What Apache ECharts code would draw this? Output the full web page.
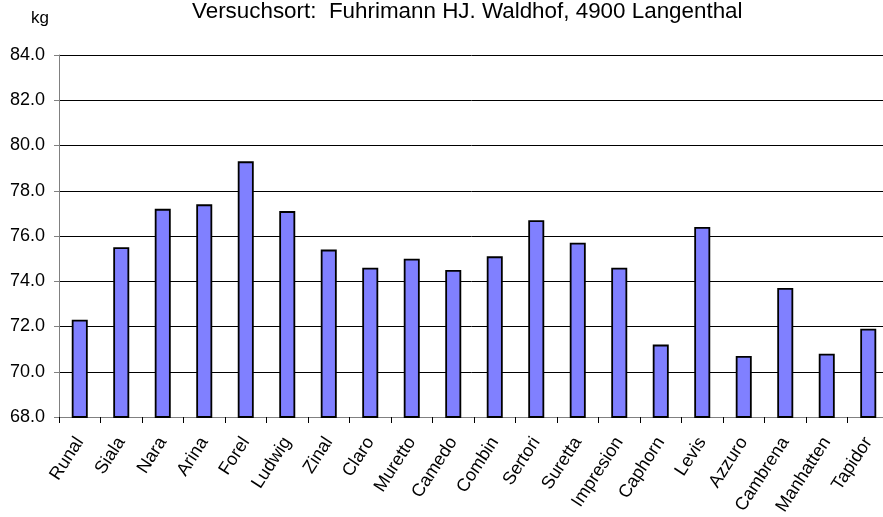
<!DOCTYPE html>
<html>
<head>
<meta charset="utf-8">
<script src="https://cdn.jsdelivr.net/npm/echarts@6/dist/echarts.min.js"></script>
<style>
  html, body { margin: 0; padding: 0; background: #fff; }
  #chart { width: 883px; height: 517px; }
</style>
</head>
<body>
<div id="chart"></div>
<script>
// Sorten und Hektolitergewicht
var sorten = ["Runal", "Siala", "Nara", "Arina", "Forel", "Ludwig", "Zinal", "Claro", "Muretto", "Camedo",
  "Combin", "Sertori", "Suretta", "Impresion", "Caphorn", "Levis", "Azzuro", "Cambrena", "Manhatten", "Tapidor"];
var gewicht = [72.3, 75.5, 77.2, 77.4, 79.3, 77.1, 75.4, 74.6, 75.0, 74.5,
  75.1, 76.7, 75.7, 74.6, 71.2, 76.4, 70.7, 73.7, 70.8, 71.9];

var myChart = echarts.init(document.getElementById("chart"));
var font = "Liberation Sans, Arial, sans-serif";

var option = {
  animation: false,
  title: {
    text: "Versuchsort:  Fuhrimann HJ. Waldhof, 4900 Langenthal",
    left: 192,
    top: 1,
    padding: 0,
    textStyle: { fontFamily: font, fontSize: 22.4, fontWeight: "normal", color: "#000" },
  },
  grid: { left: 59, top: 55, right: -6, bottom: 100, containLabel: false, outerBoundsMode: "none" },
  xAxis: {
    type: "category",
    data: sorten,
    boundaryGap: true,
    axisLine: { lineStyle: { color: "#808080", width: 1 } },
    axisTick: { show: true, length: 6, alignWithLabel: false, lineStyle: { color: "#000" } },
    axisLabel: {
      interval: 0,
      rotate: 57,
      margin: 22,
      fontFamily: font,
      fontSize: 18,
      color: "#000",
    },
  },
  yAxis: {
    type: "value",
    min: 68,
    max: 84,
    interval: 2,
    name: "kg",
    nameLocation: "end",
    nameGap: 28,
    nameTextStyle: { fontFamily: font, fontSize: 17, color: "#000", align: "right", padding: [0, 10, 0, 0] },
    axisLine: { show: true, lineStyle: { color: "#808080", width: 1 } },
    axisTick: { show: true, length: 5, lineStyle: { color: "#808080" } },
    axisLabel: {
      margin: 14,
      fontFamily: font,
      fontSize: 18,
      color: "#000",
      formatter: function (v) { return v.toFixed(1); },
    },
    splitLine: { show: true, lineStyle: { color: "#000", width: 1 } },
  },
  series: [
    {
      type: "bar",
      data: gewicht,
      barWidth: 16,
      itemStyle: { color: "#8080FF", borderColor: "#000", borderWidth: 1.8 },
    },
  ],
};

myChart.setOption(option);
window.addEventListener("resize", function () {
  myChart.resize();
});
</script>
</body>
</html>
